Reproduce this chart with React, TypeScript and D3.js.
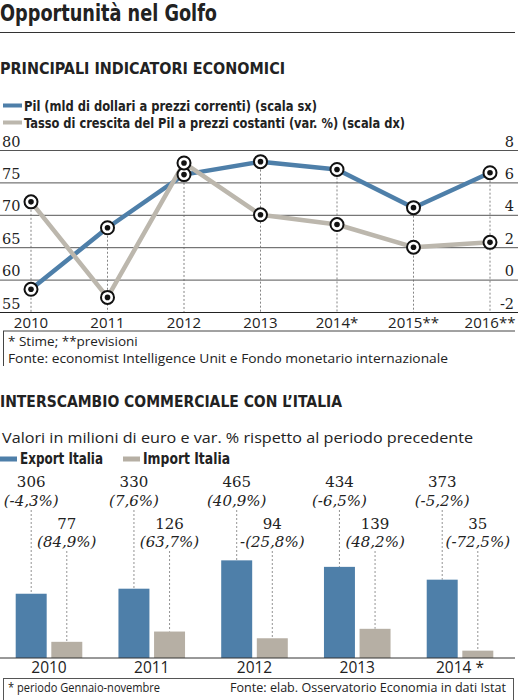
import React from "react";
import * as d3 from "d3";

// ---- Chart 1 data ----
const years = ["2010", "2011", "2012", "2013", "2014*", "2015**", "2016**"];
const pil = [58.5, 68.0, 76.2, 78.2, 77.0, 71.1, 76.5];
const growth = [4.8, -1.1, 7.2, 4.0, 3.4, 2.0, 2.3];
const leftTicks = [55, 60, 65, 70, 75, 80];
const rightTicks = [-2, 0, 2, 4, 6, 8];

// ---- Chart 2 data ----
const tradeYears = ["2010", "2011", "2012", "2013", "2014 *"];
const exportVals = [306, 330, 465, 434, 373];
const importVals = [77, 126, 94, 139, 35];
const exportVar = ["(-4,3%)", "(7,6%)", "(40,9%)", "(-6,5%)", "(-5,2%)"];
const importVar = ["(84,9%)", "(63,7%)", "-(25,8%)", "(48,2%)", "(-72,5%)"];
const seriesKeys = ["export", "import"];

const BLUE = "#4e7fa9";
const GREY = "#bcb7ad";
const IMPORT_GREY = "#b6afa4";
const DARK = "#222";
const COND = "'DejaVu Sans Condensed', 'DejaVu Sans', sans-serif";
const SANS = "'Open Sans', sans-serif";
const SERIF = "'DejaVu Serif', serif";

export default function App() {
  // Line chart scales
  const x = d3.scalePoint<string>().domain(years).range([31, 490]);
  const yL = d3.scaleLinear().domain([55, 80]).range([312, 150]);
  const yR = d3.scaleLinear().domain([-2, 8]).range([312, 150]);
  const pilLine = d3
    .line<number>()
    .x((_, i) => x(years[i])!)
    .y((d) => yL(d));
  const growthLine = d3
    .line<number>()
    .x((_, i) => x(years[i])!)
    .y((d) => yR(d));

  // Bar chart scales
  const x0 = d3
    .scaleBand<string>()
    .domain(tradeYears)
    .range([15.7, 493.3])
    .paddingInner(0.352)
    .paddingOuter(0);
  const x1 = d3
    .scaleBand<string>()
    .domain(seriesKeys)
    .range([0, x0.bandwidth()])
    .paddingInner(0.13)
    .paddingOuter(0);
  const yB = d3.scaleLinear().domain([0, 500]).range([658, 553]);

  const marker = (cx: number, cy: number, key: string) => (
    <g key={key}>
      <circle cx={cx} cy={cy} r={6.5} fill="#fff" stroke="#111" strokeWidth={2} />
      <circle cx={cx} cy={cy} r={2.8} fill="#111" />
    </g>
  );

  return (
    <svg
      width={526}
      height={700}
      style={{ position: "absolute", left: 0, top: 0, background: "#fff" }}
    >
      <rect width={526} height={700} fill="#fff" />
      {/* Title */}
      <text x={0} y={21} fontFamily={COND} fontWeight="bold" fontSize={23} fill={DARK}
        textLength={217} lengthAdjust="spacingAndGlyphs">
        Opportunità nel Golfo
      </text>
      <line x1={0} x2={515} y1={32.5} y2={32.5} stroke="#333" strokeWidth={1} />

      {/* Section 1 heading */}
      <text x={0} y={74} fontFamily={COND} fontWeight="bold" fontSize={15.5} fill={DARK}
        textLength={285} lengthAdjust="spacingAndGlyphs">
        PRINCIPALI INDICATORI ECONOMICI
      </text>

      {/* Legend 1 */}
      <rect x={3} y={103.5} width={19} height={4} fill={BLUE} />
      <text x={24} y={111} fontFamily={COND} fontWeight="bold" fontSize={14.5} fill={DARK}
        textLength={293} lengthAdjust="spacingAndGlyphs">
        Pil (mld di dollari a prezzi correnti) (scala sx)
      </text>
      <rect x={3} y={120.5} width={19} height={4} fill={GREY} />
      <text x={24} y={127.5} fontFamily={COND} fontWeight="bold" fontSize={14.5} fill={DARK}
        textLength={381} lengthAdjust="spacingAndGlyphs">
        Tasso di crescita del Pil a prezzi costanti (var. %) (scala dx)
      </text>

      {/* Gridlines */}
      {leftTicks.map((t) => (
        <line key={"g" + t} x1={0} x2={518} y1={yL(t) + 0.5} y2={yL(t) + 0.5}
          stroke={t === 55 ? "#222" : "#555"} strokeWidth={1} />
      ))}
      {leftTicks.map((t) => (
        <text key={"lt" + t} x={2} y={yL(t) - 3.5} fontFamily={SERIF} fontSize={14.5} fill={DARK}>
          {t}
        </text>
      ))}
      {rightTicks.map((t) => (
        <text key={"rt" + t} x={514} y={yR(t) - 3.5} textAnchor="end" fontFamily={SERIF}
          fontSize={14.5} fill={DARK}>
          {t}
        </text>
      ))}

      {/* Dashed drop lines */}
      {years.map((yr, i) => (
        <line key={"d" + yr} x1={x(yr)!} x2={x(yr)!}
          y1={Math.min(yL(pil[i]), yR(growth[i]))} y2={312}
          stroke="#666" strokeWidth={0.8} strokeDasharray="2,2" />
      ))}

      {/* Lines */}
      <path d={pilLine(pil)!} fill="none" stroke={BLUE} strokeWidth={4.5} strokeLinejoin="round" />
      <path d={growthLine(growth)!} fill="none" stroke={GREY} strokeWidth={4.5} strokeLinejoin="round" />
      {pil.map((v, i) => marker(x(years[i])!, yL(v), "mp" + i))}
      {growth.map((v, i) => marker(x(years[i])!, yR(v), "mg" + i))}

      {/* X labels */}
      {years.map((yr) => (
        <text key={"xl" + yr} x={x(yr)!} y={327.5} textAnchor="middle" fontFamily={SANS}
          fontSize={15} fill={DARK}>
          {yr}
        </text>
      ))}

      {/* Footnote 1 */}
      <line x1={3} x2={515} y1={331} y2={331} stroke="#444" strokeWidth={1} />
      <line x1={3.5} x2={3.5} y1={331} y2={366} stroke="#444" strokeWidth={1} />
      <text x={8} y={346} fontFamily={SANS} fontSize={13.5} fill={DARK}>
        * Stime; **previsioni
      </text>
      <text x={8} y={363} fontFamily={SANS} fontSize={13.5} fill={DARK}
        textLength={440} lengthAdjust="spacingAndGlyphs">
        Fonte: economist Intelligence Unit e Fondo monetario internazionale
      </text>

      {/* Section 2 heading */}
      <text x={0} y={407} fontFamily={COND} fontWeight="bold" fontSize={15.5} fill={DARK}
        textLength={342} lengthAdjust="spacingAndGlyphs">
        INTERSCAMBIO COMMERCIALE CON L’ITALIA
      </text>
      <text x={2} y={443} fontFamily={SANS} fontSize={15} fill={DARK}
        textLength={471} lengthAdjust="spacingAndGlyphs">
        Valori in milioni di euro e var. % rispetto al periodo precedente
      </text>

      {/* Legend 2 */}
      <rect x={0} y={456.5} width={17} height={5} fill={BLUE} />
      <text x={20} y={463.5} fontFamily={COND} fontWeight="bold" fontSize={15} fill={DARK}
        textLength={83} lengthAdjust="spacingAndGlyphs">
        Export Italia
      </text>
      <rect x={123} y={456.5} width={17} height={5} fill={IMPORT_GREY} />
      <text x={143} y={463.5} fontFamily={COND} fontWeight="bold" fontSize={15} fill={DARK}
        textLength={87} lengthAdjust="spacingAndGlyphs">
        Import Italia
      </text>

      {/* Bars */}
      {tradeYears.map((yr, i) => {
        const gx = x0(yr)!;
        const ex = gx + x1("export")!;
        const ix = gx + x1("import")!;
        const bw = x1.bandwidth();
        const ecx = ex + bw / 2;
        const icx = ix + bw / 2;
        return (
          <g key={"bar" + yr}>
            <line x1={ecx} x2={ecx} y1={510} y2={yB(exportVals[i])} stroke="#777"
              strokeWidth={0.8} strokeDasharray="2,2" />
            <line x1={icx} x2={icx} y1={551} y2={yB(importVals[i])} stroke="#777"
              strokeWidth={0.8} strokeDasharray="2,2" />
            <rect x={ex} y={yB(exportVals[i])} width={bw} height={yB(0) - yB(exportVals[i])} fill={BLUE} />
            <rect x={ix} y={yB(importVals[i])} width={bw} height={yB(0) - yB(importVals[i])} fill={IMPORT_GREY} />
            <text x={ecx} y={487} textAnchor="middle" fontFamily={SERIF} fontSize={15} fill={DARK}>
              {exportVals[i]}
            </text>
            <text x={ecx} y={506} textAnchor="middle" fontFamily={SERIF} fontStyle="italic"
              fontSize={15} fill={DARK}>
              {exportVar[i]}
            </text>
            <text x={icx} y={529} textAnchor="middle" fontFamily={SERIF} fontSize={15} fill={DARK}>
              {importVals[i]}
            </text>
            <text x={icx} y={547} textAnchor="middle" fontFamily={SERIF} fontStyle="italic"
              fontSize={15} fill={DARK}>
              {importVar[i]}
            </text>
            <text x={gx + x0.bandwidth() / 2} y={673} textAnchor="middle" fontFamily={SANS}
              fontSize={15.5} fill={DARK}>
              {yr}
            </text>
          </g>
        );
      })}
      <line x1={0} x2={515} y1={658} y2={658} stroke="#333" strokeWidth={1} />

      {/* Footnote 2 */}
      <rect x={3.5} y={678.5} width={510} height={30} fill="none" stroke="#555" strokeWidth={1} />
      <text x={8} y={692} fontFamily={SANS} fontSize={13.5} fill={DARK}
        textLength={152} lengthAdjust="spacingAndGlyphs">
        * periodo Gennaio-novembre
      </text>
      <text x={230} y={692} fontFamily={SANS} fontSize={13.5} fill={DARK}
        textLength={276} lengthAdjust="spacingAndGlyphs">
        Fonte: elab. Osservatorio Economia in dati Istat
      </text>
    </svg>
  );
}
